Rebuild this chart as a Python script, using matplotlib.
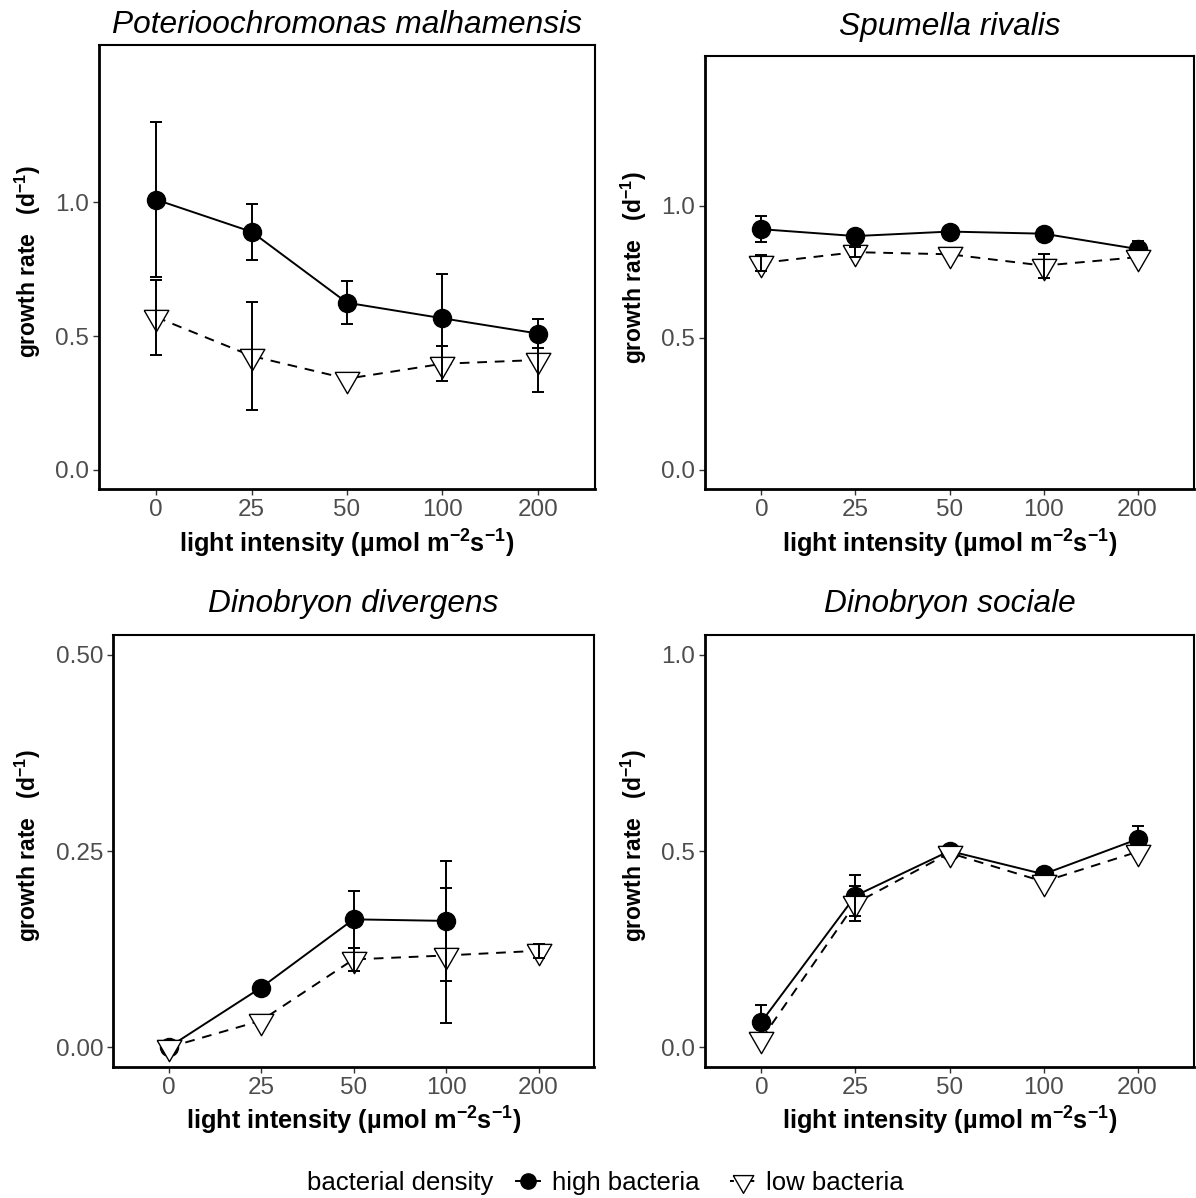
import numpy as np
import matplotlib
matplotlib.use("Agg")
import matplotlib.pyplot as plt
from matplotlib.lines import Line2D

plt.rcParams['font.family'] = ['Liberation Sans', 'DejaVu Sans']
plt.rcParams['mathtext.fontset'] = 'custom'
plt.rcParams['mathtext.rm'] = 'Liberation Sans'
plt.rcParams['mathtext.bf'] = 'Liberation Sans:bold'
plt.rcParams['mathtext.it'] = 'Liberation Sans:italic'

# ---------------- data ----------------
light = ['0', '25', '50', '100', '200']

titles = ['Poterioochromonas malhamensis', 'Spumella rivalis',
          'Dinobryon divergens', 'Dinobryon sociale']

nan = np.nan

pm_high = [1.01, 0.89, 0.625, 0.567, 0.51]
pm_high_se = [0.29, 0.105, 0.08, 0.165, 0.053]
pm_low = [0.571, 0.426, 0.341, 0.397, 0.411]
pm_low_se = [0.14, 0.20, nan, 0.065, 0.12]

sr_high = [0.912, 0.886, 0.903, 0.895, 0.837]
sr_high_se = [0.05, nan, nan, nan, 0.03]
sr_low = [0.784, 0.825, 0.817, 0.774, 0.806]
sr_low_se = [0.03, 0.02, nan, 0.045, nan]

dd_high = [0.0, 0.076, 0.163, 0.161, nan]
dd_high_se = [nan, 0.006, 0.036, 0.076, nan]
dd_low = [0.0, 0.034, 0.112, 0.117, 0.123]
dd_low_se = [nan, nan, 0.015, 0.086, 0.009]

ds_high = [0.065, 0.386, 0.50, 0.441, 0.53]
ds_high_se = [0.044, 0.052, nan, 0.015, 0.033]
ds_low = [0.021, 0.367, 0.495, 0.422, 0.498]
ds_low_se = [nan, 0.044, nan, nan, nan]

yticks_list = [[0.0, 0.5, 1.0], [0.0, 0.5, 1.0], [0.00, 0.25, 0.50], [0.0, 0.5, 1.0]]
ytick_fmt = ['{:.1f}', '{:.1f}', '{:.2f}', '{:.1f}']

# ---------------- layout (pixels) ----------------
W, H = 1196, 1198
fig = plt.figure(figsize=(W / 100, H / 100), dpi=100)

boxes = [  # left, right, top, bottom
    (99, 595, 45, 489),
    (705, 1194, 56, 489),
    (113, 594, 635, 1067),
    (705, 1194, 635, 1067),
]
ylims = [(-0.071, 1.588), (-0.072, 1.568), (-0.025, 0.525), (-0.05, 1.05)]
title_y = [33, 35, 612, 612]
xlabel_y = [553, 553, 1130, 1130]
ylabel_x = [28, 634, 28, 634]

series = [
    (pm_high, pm_high_se, pm_low, pm_low_se),
    (sr_high, sr_high_se, sr_low, sr_low_se),
    (dd_high, dd_high_se, dd_low, dd_low_se),
    (ds_high, ds_high_se, ds_low, ds_low_se),
]

gray_lab = '#4D4D4D'
gray_tick = '#333333'
xpos = np.arange(len(light))

# equilateral down-pointing triangle centred on its centroid (like R pch 6)
tri = [(-1.0, 0.577), (1.0, 0.577), (0.0, -1.155), (-1.0, 0.577)]

for i, (l, r, t, b) in enumerate(boxes):
    ax = fig.add_axes([l / W, (H - b) / H, (r - l) / W, (b - t) / H])
    hi, hi_se, lo, lo_se = series[i]
    hi = np.array(hi, dtype=float)
    lo = np.array(lo, dtype=float)
    # lines
    ax.plot(xpos, hi, color='black', lw=1.4, zorder=2)
    ax.plot(xpos, lo, color='black', lw=1.4, ls=(0, (5, 4)), zorder=2)
    # points
    ax.plot(xpos, hi, ls='none', marker='o', ms=13, mfc='black', mec='black', zorder=3)
    ax.plot(xpos, lo, ls='none', marker=tri, ms=20.5, mfc='white', mec='black', mew=1.0, zorder=4)
    # error bars
    ax.errorbar(xpos, hi, yerr=np.array(hi_se, dtype=float), fmt='none', ecolor='black',
                elinewidth=1.4, capsize=4.2, capthick=1.4, zorder=3.5)
    ax.errorbar(xpos, lo, yerr=np.array(lo_se, dtype=float), fmt='none', ecolor='black',
                elinewidth=1.4, capsize=4.2, capthick=1.4, zorder=5)

    ax.set_xlim(-0.6, len(light) - 0.4)
    ax.set_ylim(*ylims[i])
    ax.set_xticks(xpos)
    ax.set_xticklabels(light)
    yt = yticks_list[i]
    ax.set_yticks(yt)
    ax.set_yticklabels([ytick_fmt[i].format(v) for v in yt])
    ax.tick_params(axis='both', length=4, width=1.0, color=gray_tick,
                   labelcolor=gray_lab, labelsize=17.5, pad=3)
    for s in ax.spines.values():
        s.set_linewidth(1.5)
        s.set_color('black')
    ax.spines['left'].set_linewidth(2.0)
    ax.spines['bottom'].set_linewidth(2.0)

    cx = (l + r) / 2 / W
    fig.text(cx, 1 - title_y[i] / H, titles[i], style='italic', fontsize=22.8,
             ha='center', va='baseline')
    fig.text(cx, 1 - xlabel_y[i] / H,
             r'light intensity (µmol $\mathbf{m^{-2}s^{-1}}$)',
             fontsize=18.3, fontweight='bold', ha='center', va='baseline')
    fig.text(ylabel_x[i] / W, 1 - ((t + b) / 2 - 5) / H,
             r'growth rate   ($\mathbf{d^{-1}}$)', rotation=90,
             fontsize=16.5, fontweight='bold', ha='center', va='center')

# ---------------- legend ----------------
fig.text(307 / W, 1 - 1190 / H, 'bacterial density', fontsize=18.5, ha='left', va='baseline')
handles = [
    Line2D([], [], color='black', lw=1.4, marker='o', ms=11, mfc='black', mec='black'),
    Line2D([], [], color='black', lw=1.4, ls=(0, (2, 1.5)), marker=tri, ms=17,
           mfc='white', mec='black', mew=1.0),
]
fig.legend(handles, ['high bacteria', 'low bacteria'], ncol=2, frameon=False,
           loc='center left', bbox_to_anchor=(516 / W, 1 - 1183 / H),
           fontsize=18.5, handlelength=0.95, handletextpad=0.45, columnspacing=1.2,
           borderaxespad=0, borderpad=0)

fig.savefig('out.png', dpi=100)
